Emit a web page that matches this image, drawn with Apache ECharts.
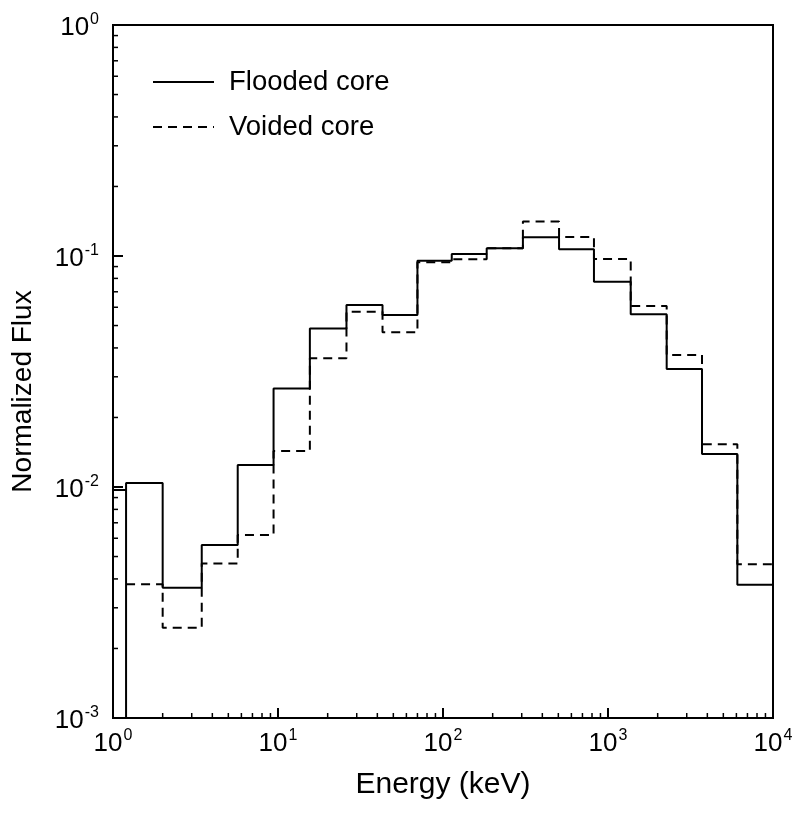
<!DOCTYPE html>
<html>
<head>
<meta charset="utf-8">
<script src="https://cdn.jsdelivr.net/npm/echarts@6/dist/echarts.min.js"></script>
<style>
    html, body { margin: 0; padding: 0; background: #fff; }
    #main { width: 799px; height: 823px; }
</style>
</head>
<body>
<div id="main"></div>
<script>
// bin edges (keV)
const edges = [1, 1.2, 2, 3.45, 5.7, 9.4, 15.6, 26, 43, 70, 113, 184, 305, 505, 822, 1373, 2268, 3713, 6080, 10000];
// normalized flux per bin
const flooded = [0.0097, 0.0104, 0.00366, 0.00561, 0.01245, 0.0267, 0.0485, 0.0614, 0.0556, 0.0954,
    0.102, 0.108, 0.1205, 0.107, 0.0774, 0.056, 0.0324, 0.0139, 0.00377];
const voided = [null, 0.00379, 0.00246, 0.00467, 0.0062, 0.0143, 0.0361, 0.0574, 0.0468, 0.094,
    0.0968, 0.108, 0.141, 0.121, 0.097, 0.0608, 0.0373, 0.0153, 0.00463];
// the flooded line drops to the axis at 1.2 keV before the second bin
const floodedDrop = [1.2, 0.001];

const xDecades = [1, 10, 100, 1000];
const yDecades = [0.001, 0.01, 0.1];
const minorSteps = [2, 3, 4, 5, 6, 7, 8, 9];

// histogram -> points for step:'end'
function stepPoints(vals) {
    const pts = [];
    vals.forEach((v, i) => {
        if (v !== null) pts.push([edges[i], v]);
    });
    pts.push([edges[edges.length - 1], vals[vals.length - 1]]);
    return pts;
}

const floodedPts = stepPoints(flooded);
floodedPts.splice(1, 0, floodedDrop);
const voidedPts = stepPoints(voided);

const xMinor = [];
xDecades.forEach(d => minorSteps.forEach(s => xMinor.push([d * s, 0.001])));
const yMinor = [];
yDecades.forEach(d => minorSteps.forEach(s => yMinor.push([1, d * s])));

const font = '"Liberation Sans", Arial, sans-serif';

function powLabel(v) {
    const e = Math.round(Math.log10(v));
    return '{b|10}{s|' + e + '}';
}
const labelRich = {
    b: { fontSize: 26, fontFamily: font, color: '#000' },
    s: { fontSize: 16, fontFamily: font, color: '#000', padding: [0, 0, 16, 1] }
};

function tickSeries(data, dx, dy) {
    return {
        type: 'custom',
        silent: true,
        z: 5,
        data: data,
        renderItem: (params, api) => {
            const p = api.coord([api.value(0), api.value(1)]);
            return {
                type: 'line',
                shape: { x1: p[0], y1: p[1], x2: p[0] + dx, y2: p[1] + dy },
                style: { stroke: '#000', lineWidth: 1.5 }
            };
        }
    };
}

const chart = echarts.init(document.getElementById('main'));
chart.setOption({
    animation: false,
    backgroundColor: '#fff',
    grid: { left: 113, right: 26, top: 25, bottom: 105, show: true, borderColor: '#000', borderWidth: 2 },
    legend: {
        data: ['Flooded core', 'Voided core'],
        orient: 'vertical',
        left: 152,
        top: 66,
        padding: 0,
        itemWidth: 61,
        itemHeight: 14,
        itemGap: 13,
        itemStyle: { opacity: 0 },
        textStyle: { fontSize: 27.5, fontFamily: font, color: '#000', lineHeight: 32, padding: [0, 0, 0, 10] }
    },
    xAxis: {
        type: 'log',
        logBase: 10,
        min: 1,
        max: 10000,
        name: 'Energy (keV)',
        nameLocation: 'middle',
        nameGap: 52,
        nameTextStyle: { fontSize: 30, fontFamily: font, color: '#000' },
        axisLine: { lineStyle: { color: '#000', width: 2 } },
        axisTick: { inside: true, length: 10, lineStyle: { color: '#000', width: 2 } },
        axisLabel: { margin: 10, formatter: powLabel, rich: labelRich },
        splitLine: { show: false }
    },
    yAxis: {
        type: 'log',
        logBase: 10,
        min: 0.001,
        max: 1,
        name: 'Normalized Flux',
        nameLocation: 'middle',
        nameGap: 76,
        nameTextStyle: { fontSize: 28, fontFamily: font, color: '#000', padding: [0, 40, 0, 0] },
        axisLine: { lineStyle: { color: '#000', width: 2 } },
        axisTick: { inside: true, length: 10, lineStyle: { color: '#000', width: 2 } },
        axisLabel: { margin: 14, formatter: powLabel, rich: labelRich, padding: [6, 0, 0, 0] },
        splitLine: { show: false }
    },
    series: [
        {
            name: 'Flooded core',
            type: 'line',
            step: 'end',
            data: floodedPts,
            showSymbol: false,
            symbol: 'none',
            lineStyle: { color: '#000', width: 2 },
            itemStyle: { color: '#000' }
        },
        {
            name: 'Voided core',
            type: 'line',
            step: 'end',
            data: voidedPts,
            showSymbol: false,
            symbol: 'none',
            lineStyle: { color: '#000', width: 2, type: [9, 6] },
            itemStyle: { color: '#000' }
        },
        tickSeries(xMinor, 0, -5),
        tickSeries(yMinor, 5, 0)
    ]
});
</script>
</body>
</html>
